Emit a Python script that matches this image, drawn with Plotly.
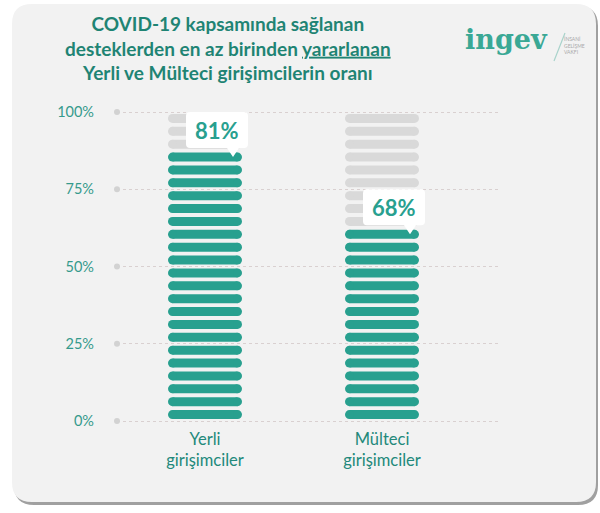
import plotly.graph_objects as go

# ---------------- data ----------------
categories = ["Yerli<br>girişimciler", "Mülteci<br>girişimciler"]
percent_values = [81, 68]            # labelled values
filled_stripes = [21, 15]            # teal stripes counted in the picture (of 24)
total_stripes = 24
y_tick_values = [0, 25, 50, 75, 100]
y_tick_labels = ["0%", "25%", "50%", "75%", "100%"]
title_lines = ["COVID-19 kapsamında sağlanan",
               "desteklerden en az birinden <u>yararlanan</u>",
               "Yerli ve Mülteci girişimcilerin oranı"]

# ---------------- layout constants ----------------
W, H = 600, 513
L, R, T, B = 117, 498, 106, 427          # plot area in pixels
CAT_PX = 177                              # pixels between category centres
X0_PX = 205                               # pixel centre of first category
x_range = [-(X0_PX - L) / CAT_PX, 1 + (R - (X0_PX + CAT_PX)) / CAT_PX]
PX_PER_PCT = 3.09
y_range = [-(B - 421) / PX_PER_PCT, 100 + (112 - T) / PX_PER_PCT]

TEAL = "#28a08f"
GREY = "#d9d9d9"
TICK_TEAL = "#359a8c"
TITLE_TEAL = "#1f8474"
FONT = "Lato"

def px2x(p):
    return (p - L) / (R - L)

def px2y(p):
    return (B - p) / (B - T)

STRIPE_H = 9
half_w = (74 / 2 - STRIPE_H / 2) / CAT_PX

fig = go.Figure()

# stripes
for colour, want_filled in ((GREY, False), (TEAL, True)):
    xs, ys = [], []
    for i, n in enumerate(filled_stripes):
        for k in range(total_stripes):
            if (k < n) == want_filled:
                yc = (k + 0.5) * 100 / total_stripes
                xs += [i - half_w, i + half_w, None]
                ys += [yc, yc, None]
    fig.add_trace(go.Scatter(
        x=xs, y=ys, mode="lines+markers",
        line=dict(color=colour, width=STRIPE_H),
        marker=dict(color=colour, size=STRIPE_H, line=dict(width=0)),
        hoverinfo="skip", showlegend=False, cliponaxis=False))

# grid end dots
fig.add_trace(go.Scatter(
    x=[x_range[0]] * len(y_tick_values), y=y_tick_values, mode="markers",
    marker=dict(color="#d2d2d2", size=6), hoverinfo="skip",
    showlegend=False, cliponaxis=False))

shapes = []
annotations = []

# frame with shadow
def rrect(x0, y0, x1, y1, r):
    pts = lambda x, y: f"{px2x(x):.5f},{px2y(y):.5f}"
    return (f"M {pts(x0 + r, y0)} L {pts(x1 - r, y0)} Q {pts(x1, y0)} {pts(x1, y0 + r)} "
            f"L {pts(x1, y1 - r)} Q {pts(x1, y1)} {pts(x1 - r, y1)} "
            f"L {pts(x0 + r, y1)} Q {pts(x0, y1)} {pts(x0, y1 - r)} "
            f"L {pts(x0, y0 + r)} Q {pts(x0, y0)} {pts(x0 + r, y0)} Z")

shapes.append(dict(type="path", xref="paper", yref="paper", layer="below",
                   path=rrect(14, 6, 598, 505, 20), fillcolor="#a0a0a0",
                   line=dict(width=0)))
shapes.append(dict(type="path", xref="paper", yref="paper", layer="below",
                   path=rrect(12, 4, 596, 502, 20), fillcolor="#f2f2f2",
                   line=dict(width=0)))

# callouts
xl, xr, yb, yt, r = -19, 43, 9, 45, 4
tip_x = 28
callout_path = (f"M {xl + r},{yb} L {tip_x - 6},{yb} L {tip_x},0 L {tip_x + 6},{yb} "
                f"L {xr - r},{yb} Q {xr},{yb} {xr},{yb + r} L {xr},{yt - r} "
                f"Q {xr},{yt} {xr - r},{yt} L {xl + r},{yt} Q {xl},{yt} {xl},{yt - r} "
                f"L {xl},{yb + r} Q {xl},{yb} {xl + r},{yb} Z")
for i, (n, v) in enumerate(zip(filled_stripes, percent_values)):
    anchor_y = (n - 0.5) * 100 / total_stripes
    shapes.append(dict(type="path", xref="x", yref="y",
                       xsizemode="pixel", ysizemode="pixel",
                       xanchor=i, yanchor=anchor_y, path=callout_path,
                       fillcolor="white", line=dict(width=0), layer="above"))
    annotations.append(dict(x=i, y=anchor_y, xref="x", yref="y",
                            xshift=(xl + xr) / 2, yshift=(yb + yt) / 2,
                            text=f"<b>{v}%</b>", showarrow=False,
                            xanchor="center", yanchor="middle",
                            font=dict(family=FONT, size=22, color=TEAL)))

# title
annotations.append(dict(xref="paper", yref="paper", x=px2x(228), y=px2y(48),
                        xanchor="center", yanchor="middle", showarrow=False,
                        text="<br>".join(f"<b>{t}</b>" for t in title_lines),
                        font=dict(family=FONT, size=19, color=TITLE_TEAL)))

# logo
annotations.append(dict(xref="paper", yref="paper", x=px2x(506), y=px2y(40),
                        xanchor="center", yanchor="middle", showarrow=False,
                        text="<b>ingev</b>",
                        font=dict(family="DejaVu Serif", size=27, color="#3aa895")))
annotations.append(dict(xref="paper", yref="paper", x=px2x(562), y=px2y(45),
                        xanchor="left", yanchor="middle", showarrow=False,
                        align="left", text="İNSANİ<br>GELİŞME<br>VAKFI",
                        font=dict(family=FONT, size=5, color="#a8a8a8")))
shapes.append(dict(type="line", xref="paper", yref="paper",
                   x0=px2x(554), y0=px2y(61), x1=px2x(565), y1=px2y(33),
                   line=dict(color="#a9d3cb", width=1.2)))

fig.update_layout(
    width=W, height=H,
    margin=dict(l=L, r=W - R, t=T, b=H - B, pad=0),
    paper_bgcolor="white", plot_bgcolor="rgba(0,0,0,0)",
    showlegend=False,
    shapes=shapes, annotations=annotations,
    xaxis=dict(range=x_range, tickvals=[0, 1], ticktext=categories,
               showgrid=False, zeroline=False, showline=False, ticks="",
               tickfont=dict(family=FONT, size=16.5, color="#23897b"),
               fixedrange=True),
    yaxis=dict(range=y_range, tickvals=y_tick_values, ticktext=y_tick_labels,
               showgrid=True, gridcolor="#d9d0d0", griddash="3px,3px", gridwidth=1,
               zeroline=False, showline=False, ticks="", ticklabelstandoff=22,
               tickfont=dict(family=FONT, size=14.5, color=TICK_TEAL),
               fixedrange=True),
)

fig.write_html("out.html", config={"displayModeBar": False},
               post_script="document.body.style.margin='0';")
